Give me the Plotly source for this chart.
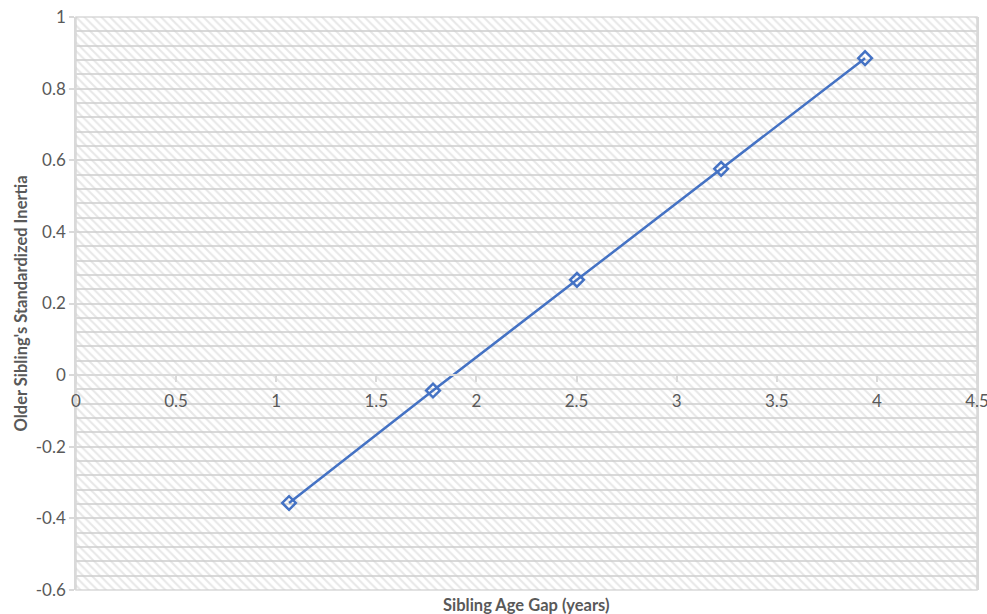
import plotly.graph_objects as go

# Sibling age gap (years) vs. older sibling's standardized inertia
age_gap = [1.064, 1.783, 2.502, 3.222, 3.941]
inertia = [-0.357, -0.043, 0.266, 0.576, 0.885]

x_range = [0, 4.5]
y_range = [-0.6, 1.0]
x_ticks = [0, 0.5, 1, 1.5, 2, 2.5, 3, 3.5, 4, 4.5]
x_tick_text = ["0", "0.5", "1", "1.5", "2", "2.5", "3", "3.5", "4", "4.5"]
y_ticks = [-0.6, -0.4, -0.2, 0, 0.2, 0.4, 0.6, 0.8, 1]
y_tick_text = ["-0.6", "-0.4", "-0.2", "0", "0.2", "0.4", "0.6", "0.8", "1"]

FONT = "Lato"
TEXT_GREY = "#595959"
GRID_GREY = "#d9d9d9"
BLUE = "#4472C4"

fig = go.Figure()

# Hatched plot-area background
fig.add_trace(go.Scatter(
    x=[x_range[0], x_range[1], x_range[1], x_range[0], x_range[0]],
    y=[y_range[0], y_range[0], y_range[1], y_range[1], y_range[0]],
    mode="lines",
    line=dict(width=0),
    fill="toself",
    fillcolor="rgba(0,0,0,0)",
    fillpattern=dict(shape="\\", fgcolor="#d0d0d0", bgcolor="rgba(0,0,0,0)",
                     size=6, solidity=0.35),
    hoverinfo="skip",
    showlegend=False,
))

fig.add_trace(go.Scatter(
    x=age_gap,
    y=inertia,
    mode="lines+markers",
    line=dict(color=BLUE, width=2.5),
    marker=dict(symbol="diamond-open", size=10.5, color=BLUE,
                line=dict(color=BLUE, width=2.5)),
    showlegend=False,
))

# The horizontal axis crosses the vertical one at y = 0
zero_pos = (0 - y_range[0]) / (y_range[1] - y_range[0])

fig.update_layout(
    width=987,
    height=614,
    margin=dict(l=76, r=10, t=17, b=24),
    paper_bgcolor="white",
    plot_bgcolor="white",
    font=dict(family=FONT, color=TEXT_GREY, size=17),
    xaxis=dict(
        range=x_range,
        tickvals=x_ticks,
        ticktext=x_tick_text,
        automargin=False,
        ticklabeloverflow="allow",
        showgrid=False,
        zeroline=False,
        showline=True,
        linecolor=GRID_GREY,
        linewidth=1.5,
        anchor="free",
        position=zero_pos,
        ticks="outside",
        ticklen=6,
        tickcolor=GRID_GREY,
        tickwidth=1.5,
        ticklabelstandoff=5,
        tickfont=dict(family=FONT, size=17, color=TEXT_GREY),
    ),
    yaxis=dict(
        range=y_range,
        tickvals=y_ticks,
        ticktext=y_tick_text,
        automargin=False,
        showgrid=True,
        gridcolor=GRID_GREY,
        gridwidth=1.5,
        zeroline=False,
        showline=True,
        mirror=True,
        linecolor=GRID_GREY,
        linewidth=1.5,
        ticks="outside",
        ticklen=5,
        tickcolor=GRID_GREY,
        tickwidth=1.5,
        tickfont=dict(family=FONT, size=17, color=TEXT_GREY),
        minor=dict(dtick=0.04, tick0=0, showgrid=True, gridcolor=GRID_GREY,
                   gridwidth=1.5, ticks=""),
    ),
    shapes=[dict(type="rect", xref="paper", yref="paper", x0=0, x1=1, y0=0, y1=1,
                 line=dict(color=GRID_GREY, width=1.5), layer="below")],
    annotations=[
        dict(text="<b>Sibling Age Gap (years)</b>", xref="paper", yref="paper",
             x=0.5, y=0, yshift=-15, showarrow=False, xanchor="center",
             yanchor="middle", font=dict(family=FONT, size=16.5, color=TEXT_GREY)),
        dict(text="<b>Older Sibling's Standardized Inertia</b>", xref="paper",
             yref="paper", x=0, xshift=-56, y=0.5, textangle=-90, showarrow=False,
             xanchor="center", yanchor="middle",
             font=dict(family=FONT, size=16.5, color=TEXT_GREY)),
    ],
)

fig.write_html("out.html")
